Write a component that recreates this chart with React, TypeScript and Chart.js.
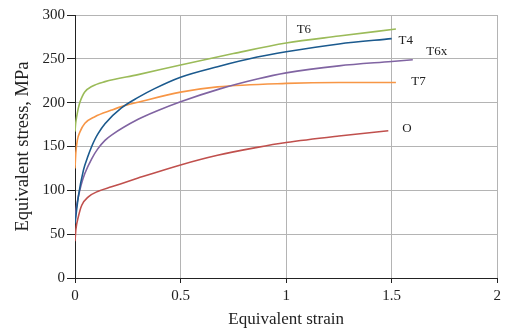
import React, { useEffect, useRef } from "react";
import { Chart, registerables } from "chart.js";

Chart.register(...registerables);

// ---- data ----
const xTicks = [0, 0.5, 1, 1.5, 2];
const yTicks = [0, 50, 100, 150, 200, 250, 300];

const t6X = [0, 0.003, 0.008, 0.015, 0.024, 0.035, 0.047, 0.079, 0.142, 0.299, 0.5, 0.75, 1.0, 1.25, 1.52];
const t6Y = [167, 176, 184, 193, 201, 207.5, 212.5, 218.5, 224, 232, 243, 256, 268, 276, 284];

const t4X = [0, 0.016, 0.04, 0.063, 0.079, 0.094, 0.11, 0.142, 0.22, 0.299, 0.377, 0.5, 0.675, 0.863, 1.0, 1.25, 1.5];
const t4Y = [62, 93, 123, 140, 150, 158, 165, 176, 194, 206, 216, 229, 241, 252, 258, 267, 273];

const t6xX = [0, 0.005, 0.016, 0.03, 0.047, 0.079, 0.107, 0.142, 0.173, 0.299, 0.393, 0.5, 0.69, 0.863, 1.0, 1.25, 1.5, 1.6];
const t6xY = [64, 78, 93, 107, 119.5, 136, 147, 157, 163, 181, 191, 201, 216, 227, 234, 242, 247, 249];

const t7X = [0, 0.004, 0.011, 0.024, 0.047, 0.094, 0.173, 0.22, 0.299, 0.5, 0.675, 1.0, 1.25, 1.52];
const t7Y = [125, 143, 157, 167, 176.5, 184, 191.5, 195.5, 200.5, 212, 218, 222, 223, 223];

const oX = [0, 0.004, 0.016, 0.032, 0.063, 0.11, 0.173, 0.299, 0.5, 0.675, 0.863, 1.0, 1.25, 1.484];
const oY = [42, 55, 70, 83, 92.5, 99, 104, 114, 129, 140, 149, 154.5, 162, 168];

const seriesNames = ["T6", "T4", "T6x", "T7", "O"];
const seriesColors = ["#9BBB59", "#1B5A8E", "#8064A2", "#F79646", "#C0504D"];
const labelX = [1.05, 1.532, 1.664, 1.593, 1.55];
const labelY = [283, 270.5, 258, 224, 171];

const xTitle = "Equivalent strain";
const yTitle = "Equivalent stress, MPa";

const FONT = "'Liberation Serif', 'Times New Roman', serif";

const zip = (xs: number[], ys: number[]) => xs.map((x, i) => ({ x, y: ys[i] }));

const labelPlugin = {
  id: "curveLabels",
  afterDatasetsDraw(chart: any) {
    const { ctx, scales } = chart;
    ctx.save();
    ctx.font = `13px ${FONT}`;
    ctx.fillStyle = "#222";
    ctx.textAlign = "left";
    ctx.textBaseline = "middle";
    seriesNames.forEach((name, i) => {
      ctx.fillText(name, scales.x.getPixelForValue(labelX[i]), scales.y.getPixelForValue(labelY[i]));
    });
    ctx.restore();
  },
};

export default function App() {
  const ref = useRef<HTMLCanvasElement>(null);
  useEffect(() => {
    document.body.style.margin = "0";
    const seriesData = [zip(t6X, t6Y), zip(t4X, t4Y), zip(t6xX, t6xY), zip(t7X, t7Y), zip(oX, oY)];
    const chart = new Chart(ref.current!, {
      type: "line",
      data: {
        datasets: seriesNames.map((name, i) => ({
          label: name,
          data: seriesData[i],
          borderColor: seriesColors[i],
          backgroundColor: seriesColors[i],
          borderWidth: 1.6,
          pointRadius: 0,
          fill: false,
          cubicInterpolationMode: "monotone" as const,
        })),
      },
      options: {
        responsive: false,
        animation: false,
        layout: { padding: { top: 15, right: 6, left: 0, bottom: 0 } },
        plugins: { legend: { display: false }, tooltip: { enabled: false } },
        scales: {
          x: {
            type: "linear",
            min: 0,
            max: 2,
            afterBuildTicks: (s: any) => {
              s.ticks = xTicks.map((v) => ({ value: v }));
            },
            afterFit: (s: any) => {
              s.height = 53;
            },
            ticks: {
              color: "#222",
              font: { family: FONT, size: 15 },
              padding: 4,
              callback: (v: any) => String(v),
            },
            grid: { color: "#B4B4B4", tickColor: "#222", tickLength: 5, lineWidth: 1 },
            border: { color: "#222", width: 1 },
            title: {
              display: true,
              text: xTitle,
              color: "#222",
              font: { family: FONT, size: 17 },
              padding: { top: 0, bottom: 1 },
            },
          },
          y: {
            type: "linear",
            min: 0,
            max: 300,
            afterBuildTicks: (s: any) => {
              s.ticks = yTicks.map((v) => ({ value: v }));
            },
            afterFit: (s: any) => {
              s.width = 75;
            },
            ticks: {
              color: "#222",
              font: { family: FONT, size: 15 },
              padding: 2,
            },
            grid: { color: "#B4B4B4", tickColor: "#222", tickLength: 8, lineWidth: 1 },
            border: { color: "#222", width: 1 },
            title: {
              display: true,
              text: yTitle,
              color: "#222",
              font: { family: FONT, size: 18.5 },
              padding: { top: 12, bottom: 0 },
            },
          },
        },
      },
      plugins: [labelPlugin],
    });
    return () => chart.destroy();
  }, []);
  return (
    <div style={{ width: 505, height: 331, background: "#fff" }}>
      <canvas ref={ref} width={505} height={331} style={{ display: "block" }} />
    </div>
  );
}
